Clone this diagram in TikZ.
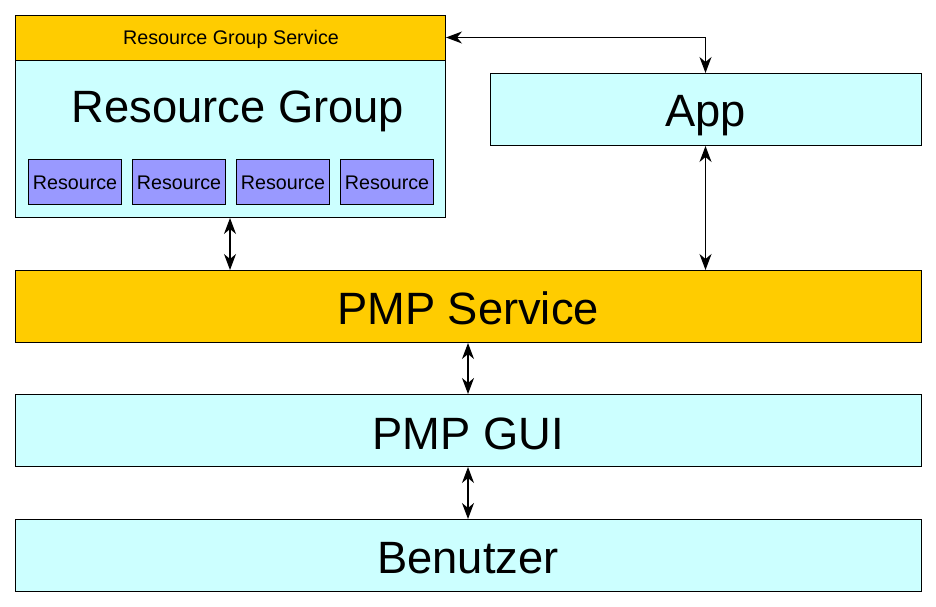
\documentclass[tikz,border=0pt]{standalone}
\usepackage{fontspec}
\setmainfont{Liberation Sans}
\usetikzlibrary{arrows.meta}
\definecolor{svcorange}{HTML}{FFCC00}
\definecolor{boxcyan}{HTML}{CCFFFF}
\definecolor{respurple}{HTML}{9999FF}
\tikzset{
  box/.style={draw=black, line width=1pt, rectangle, inner sep=0pt, anchor=north west},
  bigtxt/.style={anchor=base, inner sep=0pt, font=\fontsize{45.3}{50}\selectfont},
  smalltxt/.style={anchor=base, inner sep=0pt, font=\fontsize{19.7}{22}\selectfont},
  tip/.style={Stealth[length=16pt,width=12pt,inset=5pt]},
  link/.style={draw=black, line width=1.2pt, {Stealth[length=16pt,width=12pt,inset=5pt]}-{Stealth[length=16pt,width=12pt,inset=5pt]}}
}
\begin{document}
\begin{tikzpicture}[x=1pt,y=-1pt]
\useasboundingbox (0,0) rectangle (936,607);
% boxes
\node[box, fill=svcorange, minimum width=430pt, minimum height=45pt] (rgs) at (15,15) {};
\node[box, fill=boxcyan, minimum width=430pt, minimum height=157pt] (rg) at (15,60) {};
\node[box, fill=boxcyan, minimum width=431pt, minimum height=72pt] (app) at (490,73) {};
\node[box, fill=svcorange, minimum width=906pt, minimum height=72pt] (pmps) at (15,270) {};
\node[box, fill=boxcyan, minimum width=906pt, minimum height=72pt] (gui) at (15,394) {};
\node[box, fill=boxcyan, minimum width=906pt, minimum height=72pt] (user) at (15,519) {};
\node[box, fill=respurple, minimum width=93pt, minimum height=45pt] (r1) at (28,159) {};
\node[box, fill=respurple, minimum width=93pt, minimum height=45pt] (r2) at (132,159) {};
\node[box, fill=respurple, minimum width=93pt, minimum height=45pt] (r3) at (236,159) {};
\node[box, fill=respurple, minimum width=93pt, minimum height=45pt] (r4) at (340,159) {};
% texts
\node[smalltxt] (trgs) at (231,45) {Resource Group Service};
\node[bigtxt] (trg) at (238,123) {Resource Group};
\node[smalltxt] (tr1) at (r1.center |- 0,189) {Resource};
\node[smalltxt] (tr2) at (r2.center |- 0,189) {Resource};
\node[smalltxt] (tr3) at (r3.center |- 0,189) {Resource};
\node[smalltxt] (tr4) at (r4.center |- 0,189) {Resource};
\node[bigtxt] (tapp) at (705.5,126) {App};
\node[bigtxt] (tpmps) at (468,324) {PMP Service};
\node[bigtxt] (tgui) at (468,449) {PMP GUI};
\node[bigtxt] (tuser) at (468,573) {Benutzer};
% connectors
\coordinate (bend) at (705.5,37.5);
\draw[link] (rgs.east |- bend) -- (bend) -- (bend |- app.north);
\draw[link] (rg.south -| 230,0) -- (pmps.north -| 230,0);
\draw[link] (app.south -| 705.5,0) -- (pmps.north -| 705.5,0);
\draw[link] (pmps.south -| 468,0) -- (gui.north -| 468,0);
\draw[link] (gui.south -| 468,0) -- (user.north -| 468,0);
\end{tikzpicture}
\end{document}
